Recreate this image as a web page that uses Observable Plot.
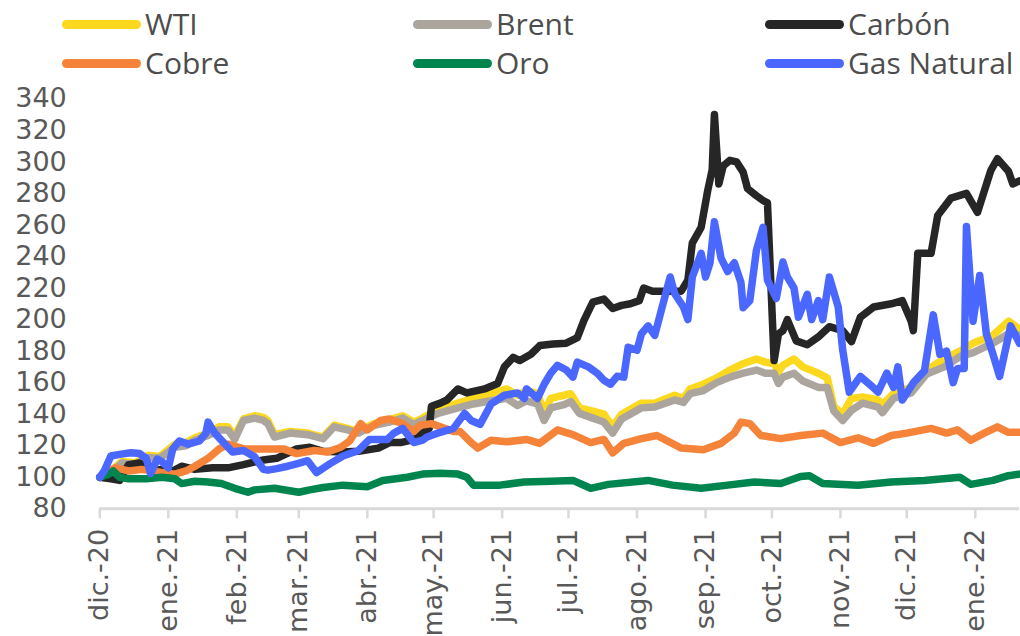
<!DOCTYPE html>
<html><head><meta charset="utf-8">
<script src="https://cdn.jsdelivr.net/npm/d3@7"></script>
<script src="https://cdn.jsdelivr.net/npm/@observablehq/plot@0.6"></script>
<style>
html,body{margin:0;padding:0;background:#fff;}
#wrap{width:1020px;height:636px;position:relative;overflow:hidden;background:#fff}
#legend{position:relative;width:1020px;height:84px;font-family:"Open Sans",sans-serif;font-size:30px;color:#4d4d4d}
.item{position:absolute;display:flex;align-items:center;height:40px;line-height:40px;white-space:nowrap}
.sw{width:79px;height:9px;border-radius:4.5px;margin-right:4px}
#chart svg{display:block}
</style></head><body>
<div id="wrap"><div id="legend"></div><div id="chart"></div></div>
<script>
const seriesNames = ["WTI", "Brent", "Carbón", "Cobre", "Oro", "Gas Natural"];
const seriesColors = ["#FCD81E", "#ABA59D", "#262626", "#F5843A", "#00854F", "#4A67FF"];
const tickDateStrings = ["2020-12-01","2021-01-01","2021-02-01","2021-03-01","2021-04-01","2021-05-01","2021-06-01","2021-07-01","2021-08-01","2021-09-01","2021-10-01","2021-11-01","2021-12-01","2022-01-01"];
const tickLabels = ["dic.-20","ene.-21","feb.-21","mar.-21","abr.-21","may.-21","jun.-21","jul.-21","ago.-21","sep.-21","oct.-21","nov.-21","dic.-21","ene.-22"];
const yTicks = [80,100,120,140,160,180,200,220,240,260,280,300,320,340];

const wti = [["2020-12-01",100],["2020-12-07",105],["2020-12-11",110],["2020-12-17",109],["2020-12-23",114],["2020-12-28",113],["2021-01-04",121],["2021-01-09",122],["2021-01-13",125],["2021-01-19",128],["2021-01-24",132],["2021-01-28",132],["2021-01-31",126],["2021-02-04",137],["2021-02-09",139],["2021-02-13",138],["2021-02-15",136],["2021-02-18",127],["2021-02-25",129],["2021-03-05",128],["2021-03-12",125.5],["2021-03-17",133],["2021-03-23",131],["2021-03-28",129],["2021-04-04",134],["2021-04-11",136.5],["2021-04-17",139],["2021-04-22",135],["2021-04-26",137.5],["2021-05-03",143],["2021-05-12",147],["2021-05-19",150],["2021-05-27",153],["2021-06-03",156],["2021-06-08",152],["2021-06-12",155],["2021-06-17",153],["2021-06-20",141],["2021-06-23",150],["2021-06-29",152],["2021-07-02",153],["2021-07-06",144],["2021-07-12",142],["2021-07-17",140],["2021-07-21",132],["2021-07-25",140],["2021-08-03",147],["2021-08-09",147],["2021-08-18",152],["2021-08-22",150],["2021-08-25",156],["2021-08-31",159],["2021-09-06",163],["2021-09-12",168],["2021-09-18",172],["2021-09-24",175],["2021-09-28",173],["2021-10-02",172],["2021-10-04",167],["2021-10-06",171],["2021-10-11",175],["2021-10-15",170],["2021-10-22",166],["2021-10-26",163],["2021-10-29",145],["2021-11-02",140],["2021-11-06",150],["2021-11-11",151],["2021-11-18",149],["2021-11-20",146],["2021-11-25",153],["2021-12-03",157],["2021-12-10",168],["2021-12-18",175],["2021-12-25",180],["2021-12-31",185],["2022-01-09",190],["2022-01-16",199],["2022-01-21",194]];

const brent = [["2020-12-01",100],["2020-12-07",104],["2020-12-11",109],["2020-12-17",108],["2020-12-23",112.5],["2020-12-28",112],["2021-01-04",119],["2021-01-09",120],["2021-01-13",123.5],["2021-01-19",126.5],["2021-01-24",130],["2021-01-28",130],["2021-01-31",124],["2021-02-04",136],["2021-02-09",137.5],["2021-02-13",136],["2021-02-15",134],["2021-02-18",125.5],["2021-02-25",128],["2021-03-05",127],["2021-03-12",124.5],["2021-03-17",132],["2021-03-23",130],["2021-03-28",128],["2021-04-04",133],["2021-04-11",135],["2021-04-17",137.5],["2021-04-22",133.5],["2021-04-26",136],["2021-05-03",140.5],["2021-05-12",144],["2021-05-19",146.5],["2021-05-27",148.5],["2021-06-03",150],["2021-06-08",145.5],["2021-06-12",148.5],["2021-06-17",146.5],["2021-06-20",136],["2021-06-23",144],["2021-06-29",146],["2021-07-02",148],["2021-07-06",140.5],["2021-07-12",137.5],["2021-07-17",135],["2021-07-21",128],["2021-07-25",137],["2021-08-03",144],["2021-08-09",144.5],["2021-08-18",149],["2021-08-22",147.5],["2021-08-25",153],["2021-08-31",155],["2021-09-06",160],["2021-09-12",163.5],["2021-09-18",166],["2021-09-24",168],["2021-09-28",166],["2021-10-02",166],["2021-10-04",159.5],["2021-10-06",163.5],["2021-10-11",166],["2021-10-15",161],["2021-10-22",157],["2021-10-26",157],["2021-10-29",142],["2021-11-02",136],["2021-11-06",142.5],["2021-11-11",147],["2021-11-18",144.5],["2021-11-20",141],["2021-11-25",150],["2021-12-03",153.5],["2021-12-10",165.5],["2021-12-18",170],["2021-12-25",176.5],["2021-12-31",179],["2022-01-09",185],["2022-01-16",191],["2022-01-21",190]];

const carbon = [["2020-12-01",100],["2020-12-06",99],["2020-12-10",98],["2020-12-14",108],["2020-12-19",109],["2020-12-24",104],["2020-12-29",105],["2021-01-03",104],["2021-01-07",107],["2021-01-13",105],["2021-01-21",106],["2021-01-28",106],["2021-02-04",108],["2021-02-13",111],["2021-02-19",112],["2021-02-25",116],["2021-02-28",118],["2021-03-06",119],["2021-03-12",116.5],["2021-03-21",116],["2021-03-28",116.5],["2021-04-06",118.5],["2021-04-11",122],["2021-04-16",122],["2021-04-21",123.5],["2021-04-24",125.5],["2021-04-26",128],["2021-04-29",131],["2021-04-30",145],["2021-05-04",147],["2021-05-07",149],["2021-05-12",156],["2021-05-16",153.5],["2021-05-24",156],["2021-05-30",159.5],["2021-06-02",170],["2021-06-06",176],["2021-06-09",174],["2021-06-14",178],["2021-06-18",183.5],["2021-06-24",184.5],["2021-06-30",185],["2021-07-05",188.5],["2021-07-08",199.5],["2021-07-12",211],["2021-07-17",213],["2021-07-21",207],["2021-07-25",209],["2021-07-29",210],["2021-08-02",212],["2021-08-04",220],["2021-08-08",218],["2021-08-21",218],["2021-08-24",225],["2021-08-26",248.5],["2021-08-30",258.5],["2021-09-02",282],["2021-09-04",295],["2021-09-05",330],["2021-09-07",286],["2021-09-09",297.5],["2021-09-12",301],["2021-09-15",300],["2021-09-18",293.5],["2021-09-20",283],["2021-09-24",278.5],["2021-09-27",275.5],["2021-09-29",274],["2021-10-02",174],["2021-10-04",191],["2021-10-06",193],["2021-10-08",200],["2021-10-12",186.5],["2021-10-17",184],["2021-10-22",189],["2021-10-27",195.5],["2021-11-02",193],["2021-11-06",186],["2021-11-10",201.5],["2021-11-16",208],["2021-11-24",210],["2021-11-29",212],["2021-12-03",199],["2021-12-04",193],["2021-12-06",242],["2021-12-12",242],["2021-12-15",266],["2021-12-21",277],["2021-12-28",280],["2022-01-02",268],["2022-01-08",294.5],["2022-01-11",302],["2022-01-16",294],["2022-01-18",286],["2022-01-21",288]];

const cobre = [["2020-12-01",100],["2020-12-08",106],["2020-12-14",104],["2020-12-20",105],["2020-12-29",103],["2021-01-04",102],["2021-01-09",104],["2021-01-13",107],["2021-01-19",112],["2021-01-24",118],["2021-01-28",121],["2021-02-04",118],["2021-02-10",118],["2021-02-18",118],["2021-02-22",118],["2021-02-28",115],["2021-03-08",117],["2021-03-14",116],["2021-03-20",119],["2021-03-24",123],["2021-03-29",134],["2021-04-01",130],["2021-04-07",136],["2021-04-11",137],["2021-04-17",134],["2021-04-22",129],["2021-04-25",133],["2021-04-30",134],["2021-05-04",132],["2021-05-10",129],["2021-05-13",129],["2021-05-18",122],["2021-05-21",118.5],["2021-05-27",123.5],["2021-06-03",122.5],["2021-06-12",124],["2021-06-18",121.5],["2021-06-26",130],["2021-07-03",127],["2021-07-11",122],["2021-07-17",124],["2021-07-21",115.5],["2021-07-26",121.5],["2021-08-03",124.5],["2021-08-10",126.5],["2021-08-21",118.5],["2021-08-31",117.5],["2021-09-08",121.5],["2021-09-14",128],["2021-09-17",135],["2021-09-21",134],["2021-09-26",126.5],["2021-10-05",124.5],["2021-10-14",126.5],["2021-10-24",128],["2021-11-01",122],["2021-11-09",125],["2021-11-16",121.5],["2021-11-24",126.5],["2021-12-01",128],["2021-12-12",131],["2021-12-19",128],["2021-12-24",130],["2021-12-30",123.5],["2022-01-05",128],["2022-01-11",132],["2022-01-16",128.5],["2022-01-21",128.5]];

const oro = [["2020-12-01",100],["2020-12-05",102],["2020-12-07",104],["2020-12-10",100],["2020-12-14",99],["2020-12-22",99],["2020-12-29",100],["2021-01-04",99],["2021-01-07",96],["2021-01-13",97.5],["2021-01-19",97],["2021-01-25",96],["2021-01-31",93],["2021-02-06",90.5],["2021-02-09",92],["2021-02-18",93],["2021-03-01",90.5],["2021-03-06",92],["2021-03-12",93.5],["2021-03-21",95],["2021-04-01",94],["2021-04-08",98],["2021-04-19",100],["2021-04-26",102],["2021-05-04",102.5],["2021-05-12",102],["2021-05-16",100],["2021-05-19",95],["2021-05-31",95],["2021-06-11",97],["2021-06-23",97.5],["2021-07-03",98],["2021-07-11",93],["2021-07-19",95.5],["2021-08-06",98],["2021-08-17",95],["2021-08-30",93],["2021-09-11",95],["2021-09-23",97],["2021-10-05",96],["2021-10-14",100.5],["2021-10-18",101],["2021-10-24",96],["2021-11-09",95],["2021-11-24",97],["2021-12-09",98],["2021-12-25",100],["2021-12-30",95.5],["2022-01-09",98],["2022-01-16",101],["2022-01-21",102]];

const gas = [["2020-12-01",100],["2020-12-03",104],["2020-12-06",113.5],["2020-12-10",114.5],["2020-12-15",115.5],["2020-12-19",115],["2020-12-22",112],["2020-12-24",102.5],["2020-12-27",111.5],["2020-12-29",110],["2021-01-01",106],["2021-01-03",118],["2021-01-06",123],["2021-01-10",121],["2021-01-15",123],["2021-01-18",128],["2021-01-19",135],["2021-01-22",128],["2021-01-26",122],["2021-01-30",116],["2021-02-04",117],["2021-02-09",113],["2021-02-13",105],["2021-02-15",104.5],["2021-02-19",105.5],["2021-02-24",107],["2021-02-28",108.5],["2021-03-05",110.5],["2021-03-09",103],["2021-03-15",108.5],["2021-03-21",113.5],["2021-03-28",117],["2021-04-02",124],["2021-04-10",124],["2021-04-13",128],["2021-04-17",131],["2021-04-22",122],["2021-04-26",123.5],["2021-04-28",125.5],["2021-05-04",128.5],["2021-05-10",131],["2021-05-15",140.5],["2021-05-18",136],["2021-05-22",133.5],["2021-05-27",146.5],["2021-06-02",152],["2021-06-08",153.5],["2021-06-11",150],["2021-06-12",156],["2021-06-17",150],["2021-06-20",159],["2021-06-23",166],["2021-06-26",171],["2021-06-30",168],["2021-07-03",163.5],["2021-07-05",173],["2021-07-10",170],["2021-07-14",166],["2021-07-17",161.5],["2021-07-20",159],["2021-07-23",164],["2021-07-26",163.5],["2021-07-28",182.5],["2021-08-01",180.5],["2021-08-03",191],["2021-08-06",196],["2021-08-09",190],["2021-08-12",206],["2021-08-16",227],["2021-08-18",216.5],["2021-08-22",208],["2021-08-24",200],["2021-08-26",227],["2021-08-30",242],["2021-09-01",227],["2021-09-03",236],["2021-09-05",262],["2021-09-08",239],["2021-09-11",230.5],["2021-09-14",236],["2021-09-17",223.5],["2021-09-18",207.5],["2021-09-21",212],["2021-09-24",244],["2021-09-27",258.5],["2021-09-29",225],["2021-10-03",213.5],["2021-10-06",236.5],["2021-10-08",227],["2021-10-11",220],["2021-10-13",201.5],["2021-10-17",216],["2021-10-19",200],["2021-10-22",212],["2021-10-24",200],["2021-10-27",227],["2021-10-31",208],["2021-11-02",181],["2021-11-05",154],["2021-11-10",164],["2021-11-15",158],["2021-11-18",154],["2021-11-22",166],["2021-11-25",157],["2021-11-27",170],["2021-11-29",149],["2021-12-04",160],["2021-12-09",167.5],["2021-12-13",203],["2021-12-16",178],["2021-12-19",180],["2021-12-22",160],["2021-12-24",169],["2021-12-27",169],["2021-12-28",259],["2021-12-31",199],["2022-01-03",228],["2022-01-06",191],["2022-01-09",178],["2022-01-12",164],["2022-01-17",196],["2022-01-21",185]];

const seriesData = [wti, brent, carbon, cobre, oro, gas];

// Legend (HTML, above the SVG)
const legend = document.getElementById("legend");
const colLeft = [62, 413, 765];
const rowCenter = [24, 63];
seriesNames.forEach((name, i) => {
  const item = document.createElement("div");
  item.className = "item";
  item.style.left = colLeft[i % 3] + "px";
  item.style.top = (rowCenter[Math.floor(i / 3)] - 20) + "px";
  const sw = document.createElement("div");
  sw.className = "sw";
  sw.style.background = seriesColors[i];
  const tx = document.createElement("span");
  tx.textContent = name;
  item.appendChild(sw);
  item.appendChild(tx);
  legend.appendChild(item);
});

const rows = [];
seriesNames.forEach((name, i) => {
  seriesData[i].forEach(([d, v]) => rows.push({date: new Date(d), value: v, series: name}));
});
const tickDates = tickDateStrings.map(s => new Date(s));

const chart = Plot.plot({
  width: 1020,
  height: 552,
  marginTop: 14.3,
  marginBottom: 127.7,
  marginLeft: 99.3,
  marginRight: 1,
  style: {fontFamily: "'DejaVu Sans', sans-serif", fontSize: "27px", color: "#595959", background: "#fff", overflow: "visible"},
  x: {type: "utc", domain: [new Date("2020-12-01"), new Date("2022-01-21")]},
  y: {domain: [80, 340]},
  color: {domain: seriesNames, range: seriesColors},
  marks: [
    Plot.ruleY([80], {stroke: "#d9d9d9", strokeWidth: 3}),
    Plot.axisX({
      ticks: tickDates,
      tickFormat: d => tickLabels[tickDates.findIndex(t => +t === +d)],
      tickRotate: -90,
      tickSize: 10,
      tickPadding: 10,
      stroke: "#d9d9d9",
      strokeWidth: 2.5,
      fill: "#595959",
      fontSize: 27,
      label: null
    }),
    Plot.axisY({ticks: yTicks, tickSize: 0, tickPadding: 33, fill: "#595959", fontSize: 27, label: null}),
    Plot.line(rows, {x: "date", y: "value", z: "series", stroke: "series", strokeWidth: 7.5, strokeLinejoin: "round", strokeLinecap: "round"})
  ]
});
document.getElementById("chart").appendChild(chart);
</script>
</body></html>
